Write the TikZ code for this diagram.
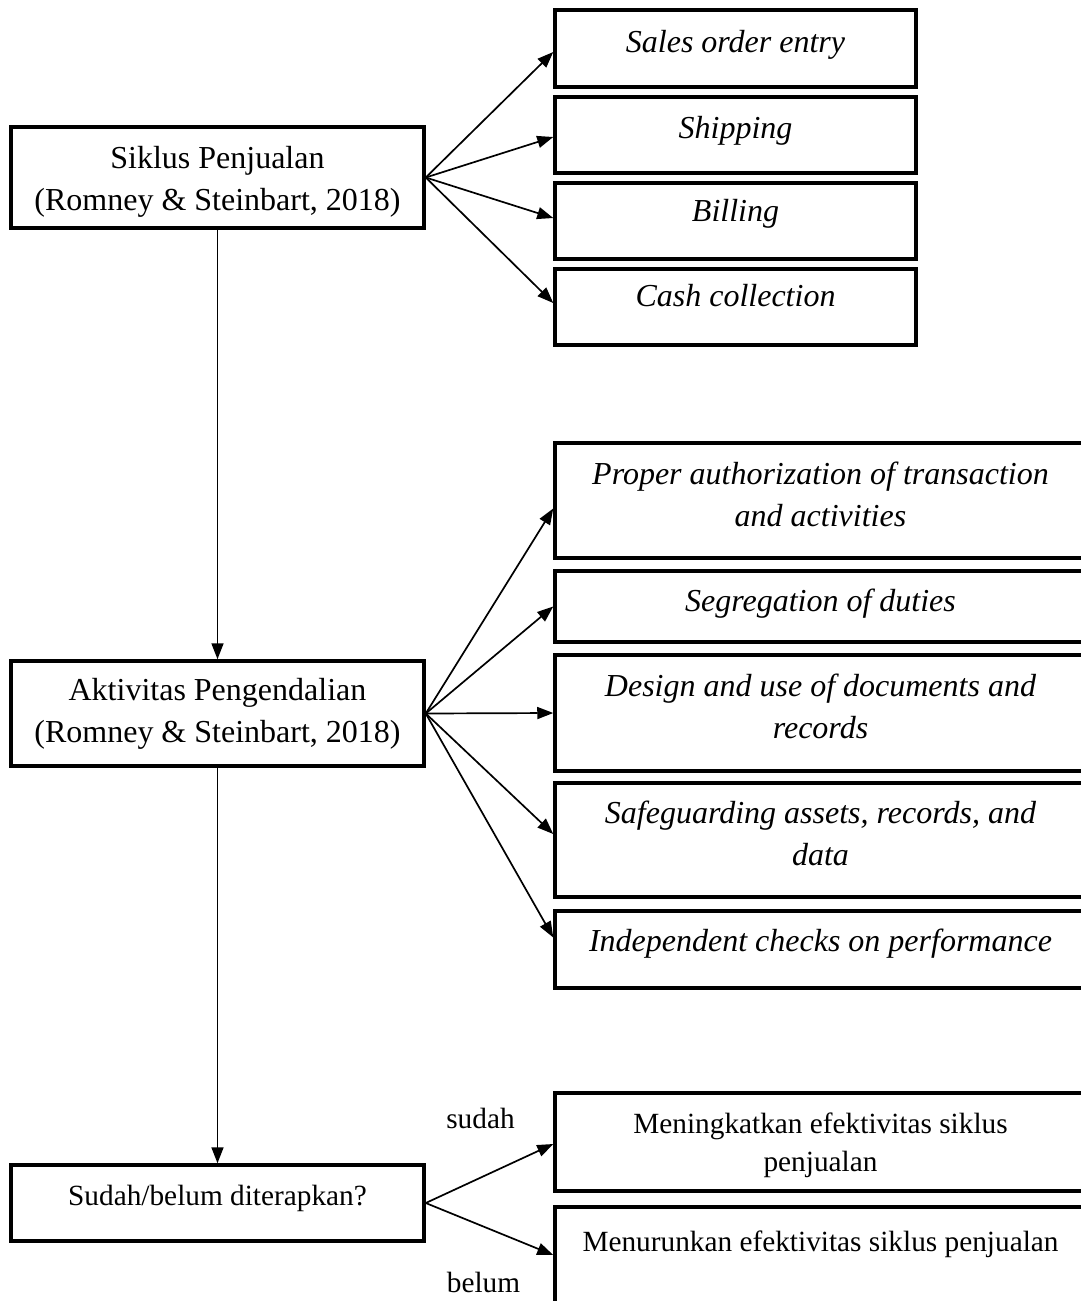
\documentclass[tikz,border=0pt]{standalone}
\usepackage{fontspec}
\setmainfont{Liberation Serif}
\usetikzlibrary{arrows.meta}
\newcommand\fbig{\fontsize{32pt}{42pt}\selectfont}
\newcommand\fsmall{\fontsize{29.3pt}{38pt}\selectfont}
\begin{document}
\begin{tikzpicture}[x=1pt,y=-1pt,
  bx/.style={draw, line width=3.5pt, inner sep=0pt, align=center, font=\fbig, text height=22pt},
  itbx/.style={bx, font=\fbig\itshape},
  smbx/.style={bx, font=\fsmall, text height=20pt},
  leftbox/.style={minimum width=413pt},
  topbox/.style={itbx, minimum width=361pt, minimum height=76pt},
  midbox/.style={itbx, minimum width=531pt},
  lbl/.style={font=\fsmall, inner sep=0pt, anchor=base},
  con/.style={line width=1.7pt, -{Triangle[length=16pt,width=12pt]}}
]
\useasboundingbox (0,0) rectangle (1081,1301);

% left column
\node[bx, leftbox, minimum height=101pt, text height=65pt, text depth=0pt] (siklus) at (217.5,177.5)
  {Siklus Penjualan\\(Romney \& Steinbart, 2018)};
\node[bx, leftbox, minimum height=105pt, text height=64pt, text depth=7pt] (aktiv) at (217.5,713.5)
  {Aktivitas Pengendalian\\(Romney \& Steinbart, 2018)};
\node[smbx, leftbox, minimum height=76pt, text depth=16pt] (sudah) at (217.5,1203)
  {Sudah/belum diterapkan?};

% top right column
\node[topbox, minimum height=77pt, text depth=15pt] (soe) at (735.5,48.5) {Sales order entry};
\node[topbox, text depth=16pt] (ship) at (735.5,135) {Shipping};
\node[topbox, text depth=22pt] (bill) at (735.5,221) {Billing};
\node[topbox, text depth=24pt] (cash) at (735.5,307) {Cash collection};

% middle right column
\node[midbox, minimum height=115pt, text height=64pt, text depth=13pt] (auth) at (820.5,500.5)
  {Proper authorization of transaction\\and activities};
\node[midbox, minimum height=71pt, text depth=13pt] (segr) at (820.5,606.5)
  {Segregation of duties};
\node[midbox, minimum height=116pt, text height=64pt, text depth=14pt] (docs) at (820.5,713)
  {Design and use of documents and\\records};
\node[midbox, minimum height=114pt, text height=64pt, text depth=14pt] (safe) at (820.5,840)
  {Safeguarding assets, records, and\\data};
\node[midbox, minimum height=77pt, text depth=19pt] (indep) at (820.5,949.5)
  {Independent checks on performance};

% bottom right column
\node[smbx, minimum width=531pt, minimum height=98pt, text height=58pt, text depth=0pt] (naik) at (820.5,1142)
  {Meningkatkan efektivitas siklus\\penjualan};
\node[smbx, minimum width=531pt, minimum height=96pt, text depth=28pt] (turun) at (820.5,1255)
  {Menurunkan efektivitas siklus penjualan};

% branch labels
\node[lbl] (lsudah) at (480.5,1128) {sudah};
\node[lbl] (lbelum) at (483.5,1292) {belum};

% connectors
\draw[con] (siklus.east) -- ([yshift=-3.5pt]soe.west);
\draw[con] (siklus.east) -- ([yshift=-2pt]ship.west);
\draw[con] (siklus.east) -- ([yshift=3pt]bill.west);
\draw[con] (siklus.east) -- ([yshift=4pt]cash.west);

\draw[con] (siklus.south) -- (aktiv.north);

\draw[con] (aktiv.east) -- ([yshift=-8pt]auth.west);
\draw[con] (aktiv.east) -- (segr.west);
\draw[con] (aktiv.east) -- (docs.west);
\draw[con] (aktiv.east) -- ([yshift=6pt]safe.west);
\draw[con] (aktiv.east) -- ([yshift=12pt]indep.west);

\draw[con] (aktiv.south) -- (sudah.north);

\draw[con] (sudah.east) -- ([yshift=-2pt]naik.west);
\draw[con] (sudah.east) -- (turun.west);
\end{tikzpicture}
\end{document}
